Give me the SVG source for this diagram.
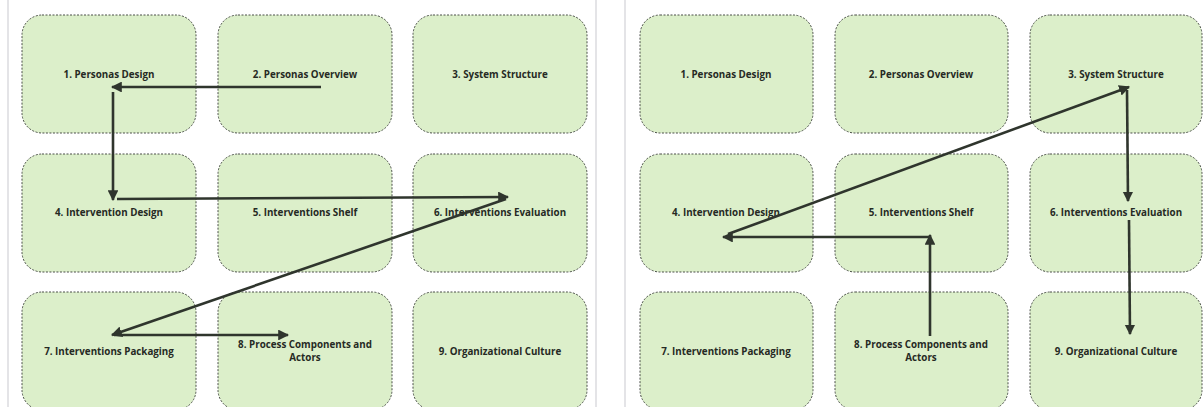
<svg xmlns="http://www.w3.org/2000/svg" width="1203" height="407" viewBox="0 0 1203 407">
  <style>
    .box { fill: #dcefca; stroke: #4a4f48; stroke-width: 1; stroke-dasharray: 2 1.5; }
    .lbl { font-family: "Open Sans", "Liberation Sans", sans-serif; font-weight: 700; font-size: 9.8px; fill: #262a24; text-anchor: middle; }
    .edge { fill: none; stroke: #2f352d; stroke-width: 2.6; marker-end: url(#head); }
    .panel { stroke: #c9c9cf; stroke-width: 1; }
  </style>
  <defs>
    <marker id="head" viewBox="0 0 10 10" refX="9" refY="5" markerWidth="4.2" markerHeight="4.2" orient="auto" markerUnits="strokeWidth">
      <path d="M0,0 L10,5 L0,10 z" fill="#2f352d"/>
    </marker>
  </defs>

  <rect width="1203" height="407" fill="#ffffff"/>

  <!-- panel separators -->
  <line class="panel" x1="8" y1="0" x2="8" y2="407" stroke="#e4e4e8"/>
  <line class="panel" x1="596" y1="0" x2="596" y2="407"/>
  <line class="panel" x1="625" y1="0" x2="625" y2="407"/>

  <!-- left panel nodes -->
  <g id="L1"><rect class="box" x="22" y="15" width="174" height="118" rx="20"/><text class="lbl" x="109" y="78">1. Personas Design</text></g>
  <g id="L2"><rect class="box" x="218" y="15" width="174" height="118" rx="20"/><text class="lbl" x="305" y="78">2. Personas Overview</text></g>
  <g id="L3"><rect class="box" x="413" y="15" width="174" height="118" rx="20"/><text class="lbl" x="500" y="78">3. System Structure</text></g>
  <g id="L4"><rect class="box" x="22" y="154" width="174" height="118" rx="20"/><text class="lbl" x="109" y="216">4. Intervention Design</text></g>
  <g id="L5"><rect class="box" x="218" y="154" width="174" height="118" rx="20"/><text class="lbl" x="305" y="216">5. Interventions Shelf</text></g>
  <g id="L6"><rect class="box" x="413" y="154" width="174" height="118" rx="20"/><text class="lbl" x="500" y="216">6. Interventions Evaluation</text></g>
  <g id="L7"><rect class="box" x="22" y="292" width="174" height="118" rx="20"/><text class="lbl" x="109" y="355">7. Interventions Packaging</text></g>
  <g id="L8"><rect class="box" x="218" y="292" width="174" height="118" rx="20"/><text class="lbl" x="305" y="348">8. Process Components and</text><text class="lbl" x="305" y="361">Actors</text></g>
  <g id="L9"><rect class="box" x="413" y="292" width="174" height="118" rx="20"/><text class="lbl" x="500" y="355">9. Organizational Culture</text></g>

  <!-- right panel nodes -->
  <g id="R1"><rect class="box" x="640" y="15" width="173" height="118" rx="20"/><text class="lbl" x="726" y="78">1. Personas Design</text></g>
  <g id="R2"><rect class="box" x="835" y="15" width="173" height="118" rx="20"/><text class="lbl" x="921" y="78">2. Personas Overview</text></g>
  <g id="R3"><rect class="box" x="1030" y="15" width="172" height="118" rx="20"/><text class="lbl" x="1116" y="78">3. System Structure</text></g>
  <g id="R4"><rect class="box" x="640" y="154" width="173" height="118" rx="20"/><text class="lbl" x="726" y="216">4. Intervention Design</text></g>
  <g id="R5"><rect class="box" x="835" y="154" width="173" height="118" rx="20"/><text class="lbl" x="921" y="216">5. Interventions Shelf</text></g>
  <g id="R6"><rect class="box" x="1030" y="154" width="172" height="118" rx="20"/><text class="lbl" x="1116" y="216">6. Interventions Evaluation</text></g>
  <g id="R7"><rect class="box" x="640" y="292" width="173" height="118" rx="20"/><text class="lbl" x="726" y="355">7. Interventions Packaging</text></g>
  <g id="R8"><rect class="box" x="835" y="292" width="173" height="118" rx="20"/><text class="lbl" x="921" y="348">8. Process Components and</text><text class="lbl" x="921" y="361">Actors</text></g>
  <g id="R9"><rect class="box" x="1030" y="292" width="172" height="118" rx="20"/><text class="lbl" x="1116" y="355">9. Organizational Culture</text></g>

  <!-- connectors -->
  <g id="connectors">
    <!-- left sequence -->
    <line class="edge" x1="321" y1="87" x2="112" y2="87"/>
    <line class="edge" x1="113" y1="92" x2="113" y2="200"/>
    <line class="edge" x1="117" y1="199" x2="508" y2="197"/>
    <line class="edge" x1="506" y1="199" x2="112" y2="335"/>
    <line class="edge" x1="114" y1="335" x2="288" y2="335"/>
    <!-- right sequence -->
    <line class="edge" x1="930" y1="336" x2="930" y2="235"/>
    <line class="edge" x1="930" y1="237" x2="723" y2="237"/>
    <line class="edge" x1="728" y1="234" x2="1129" y2="87"/>
    <line class="edge" x1="1127" y1="90" x2="1128" y2="201"/>
    <line class="edge" x1="1129" y1="220" x2="1130" y2="334"/>
  </g>
</svg>
